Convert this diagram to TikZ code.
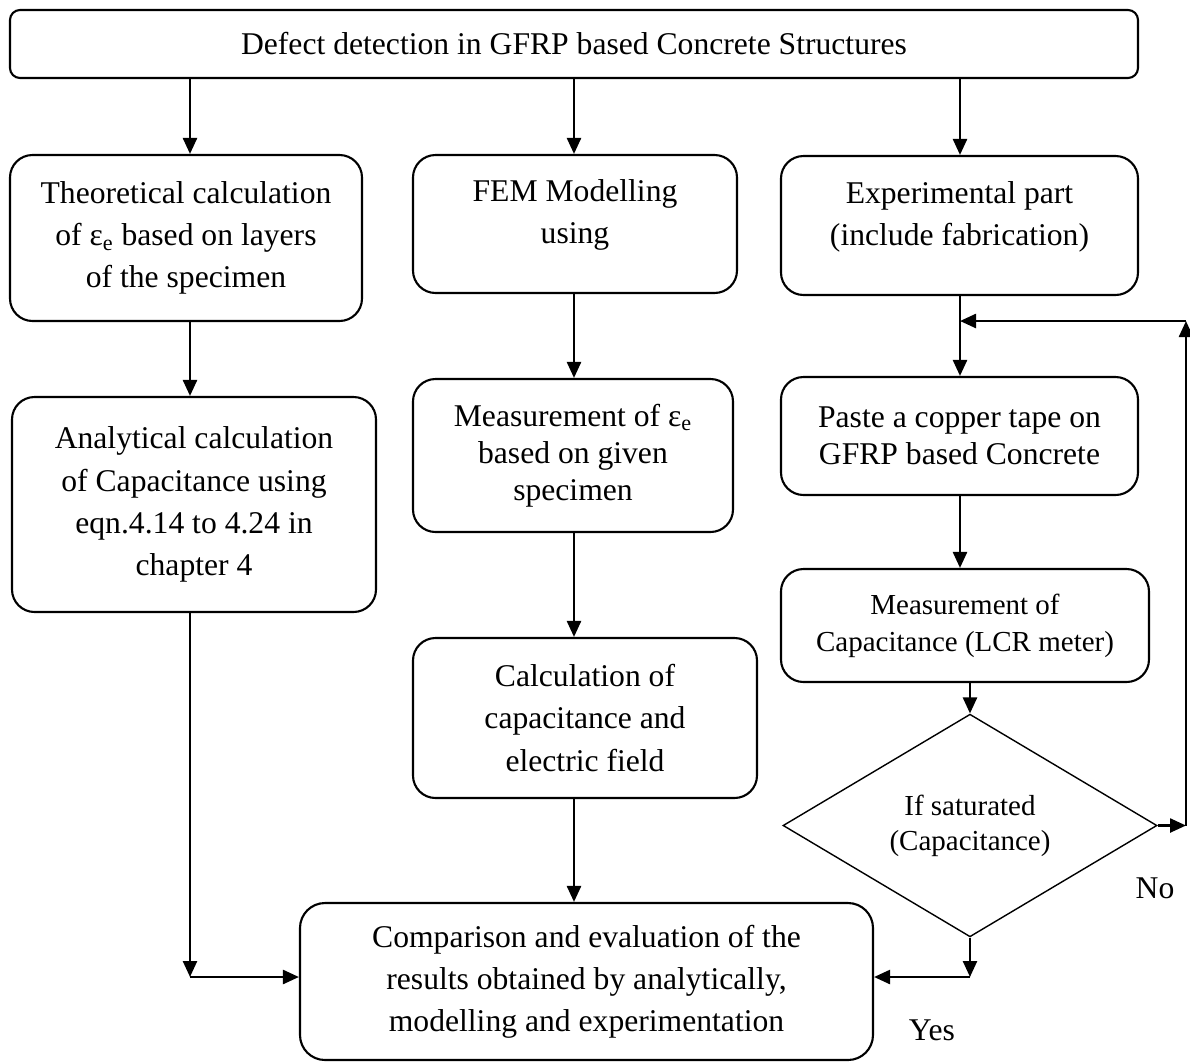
\documentclass[tikz,border=0pt]{standalone}
\usepackage{fontspec}
\setmainfont{Liberation Serif}
\usetikzlibrary{arrows.meta,shapes.geometric,calc}

\begin{document}
\begin{tikzpicture}[box/.style={draw,line width=1.2pt,rounded corners=0.45cm,align=center,inner sep=2pt,font=\fontsize{18}{24}\selectfont},
  tightbox/.style={font=\fontsize{18}{21}\selectfont},
  smallbox/.style={font=\fontsize{16.5}{21}\selectfont},
  ifbox/.style={draw,diamond,line width=0.8pt,align=center,inner sep=0pt,font=\fontsize{16.5}{20}\selectfont},
  arr/.style={line width=1.4pt,-{Triangle[length=0.32cm,width=0.28cm]}}]
\useasboundingbox (0,0) rectangle (23.8,-21.26);
\node[box,rounded corners=0.2cm,minimum width=22.56cm,minimum height=1.36cm] (top) at (11.48,-0.88) {Defect detection in GFRP based Concrete Structures};

\node[box,minimum width=7.04cm,minimum height=3.32cm] (A1) at (3.72,-4.76) {Theoretical calculation\\of ε\textsubscript{e} based on layers\\of the specimen};
\node[box,minimum width=7.28cm,minimum height=4.3cm] (A2) at (3.88,-10.09) {Analytical calculation\\of Capacitance using\\eqn.4.14 to 4.24 in\\chapter 4};

\node[box,minimum width=6.48cm,minimum height=2.76cm] (B1) at (11.5,-4.48) {FEM Modelling\\using\\[-10pt]\mbox{}};
\node[box,tightbox,minimum width=6.4cm,minimum height=3.06cm] (B2) at (11.46,-9.11) {Measurement of ε\textsubscript{e}\\based on given\\specimen};
\node[box,minimum width=6.88cm,minimum height=3.2cm] (B3) at (11.7,-14.36) {Calculation of\\capacitance and\\electric field};

\node[box,minimum width=7.14cm,minimum height=2.78cm] (C1) at (19.19,-4.51) {Experimental part\\(include fabrication)\\[-10pt]\mbox{}};
\node[box,tightbox,minimum width=7.14cm,minimum height=2.36cm] (C2) at (19.19,-8.72) {Paste a copper tape on\\GFRP based Concrete};
\node[box,smallbox,minimum width=7.36cm,minimum height=2.26cm] (C3) at (19.3,-12.51) {Measurement of\\Capacitance (LCR meter)};
\node[ifbox,minimum width=7.48cm,minimum height=4.1cm] (sat) at (19.4,-16.51) {If saturated\\(Capacitance)};

\node[box,rounded corners=0.5cm,minimum width=11.46cm,minimum height=3.14cm] (D) at (11.73,-19.63) {Comparison and evaluation of the\\results obtained by analytically,\\modelling and experimentation};
\node[font=\fontsize{18}{24}\selectfont] (no) at (23.1,-17.76) {No};
\node[font=\fontsize{18}{24}\selectfont] (yes) at (18.64,-20.6) {Yes};

\coordinate (xa) at (3.8,0);
\coordinate (xb) at (11.48,0);
\coordinate (xc) at (19.2,0);
\coordinate (xd) at (19.4,0);
\coordinate (back) at (23.72,-6.42);
\coordinate (join) at (0,-19.54);

\draw[arr] (top.south -| xa) -- (A1.north -| xa);
\draw[arr] (top.south -| xb) -- (B1.north -| xb);
\draw[arr] (top.south -| xc) -- (C1.north -| xc);
\draw[arr] (A1.south -| xa) -- (A2.north -| xa);
\draw[arr] (B1.south -| xb) -- (B2.north -| xb);
\draw[arr] (B2.south -| xb) -- (B3.north -| xb);
\draw[arr] (B3.south -| xb) -- (D.north -| xb);
\draw[arr] (C1.south -| xc) -- (C2.north -| xc);
\draw[arr] (C2.south -| xc) -- (C3.north -| xc);
\draw[arr] (C3.south -| xd) -- (sat.north);
% not saturated: back to the copper tape
\draw[arr] (sat.east) -- (sat.east -| back);
\draw[arr] (sat.east -| back) -- (back);
\draw[arr] (back) -- (back -| xc);
% into the comparison
\draw[arr] (A2.south -| xa) -- (join -| xa);
\draw[arr] (join -| xa) -- (join -| D.west);
\draw[arr] (sat.south) -- (join -| xd);
\draw[arr] (join -| xd) -- (join -| D.east);
\end{tikzpicture}
\end{document}
